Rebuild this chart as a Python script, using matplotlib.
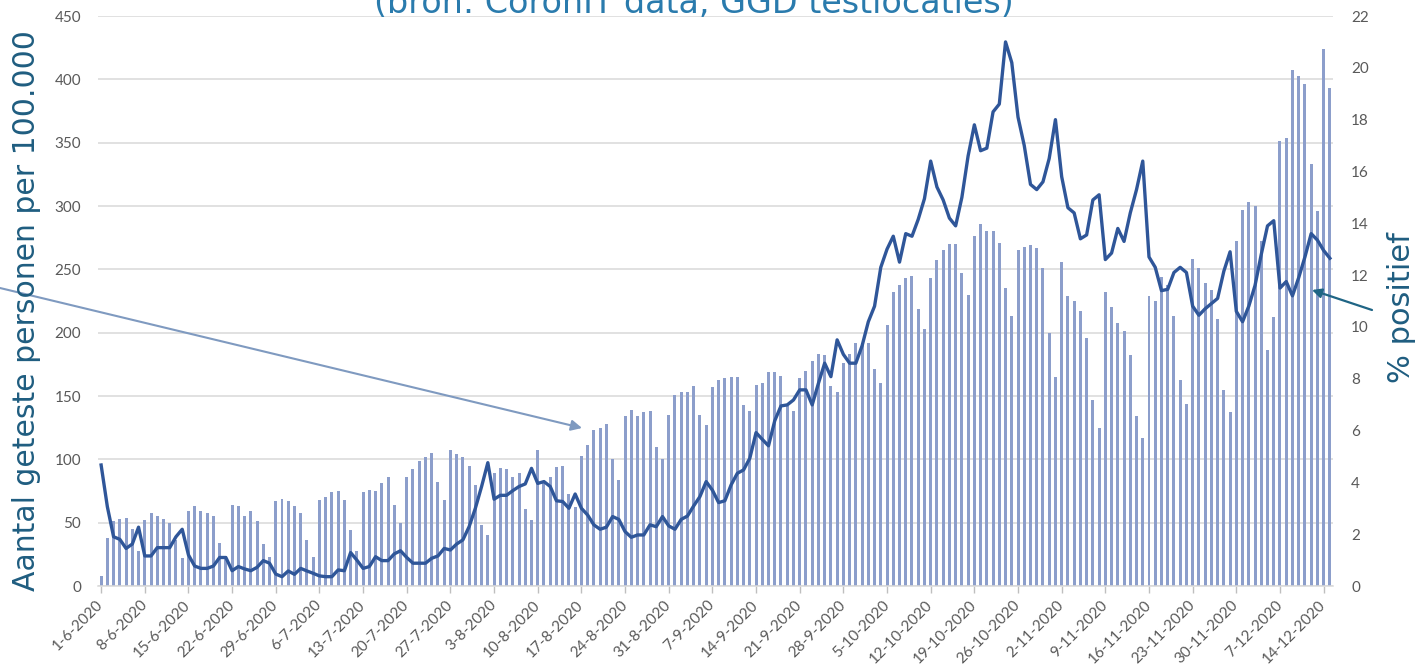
import numpy as np
import matplotlib
matplotlib.use('Agg')
import matplotlib.pyplot as plt

# daily values, 1-6-2020 .. 15-12-2020 (one row per week, Mon..Sun)
tested_per_100k = [
    8, 38, 51, 53, 54, 45, 28,
    52, 58, 55, 53, 50, 36, 22,
    59, 63, 59, 58, 55, 34, 24,
    64, 63, 55, 59, 51, 33, 23,
    67, 69, 67, 63, 58, 36, 23,
    68, 70, 74, 75, 68, 44, 28,
    74, 76, 75, 81, 86, 64, 50,
    86, 92, 99, 102, 105, 82, 68,
    107, 104, 102, 95, 80, 48, 40,
    89, 93, 92, 86, 89, 61, 52,
    107, 83, 86, 94, 95, 73, 62,
    103, 111, 123, 125, 128, 100, 84,
    134, 139, 134, 137, 138, 110, 100,
    135, 151, 153, 153, 158, 135, 127,
    157, 163, 164, 165, 165, 143, 138,
    159, 160, 169, 169, 166, 142, 138,
    164, 170, 178, 183, 182, 158, 153,
    176, 183, 192, 192, 192, 171, 160,
    206, 232, 238, 243, 245, 219, 203,
    243, 257, 265, 270, 270, 247, 230,
    276, 286, 280, 280, 271, 235, 213,
    265, 268, 269, 267, 251, 200, 165,
    256, 229, 225, 217, 196, 147, 125,
    232, 220, 208, 201, 182, 134, 117,
    229, 225, 244, 238, 213, 163, 144,
    258, 251, 239, 234, 211, 155, 137,
    272, 297, 303, 300, 272, 186, 212,
    351, 354, 407, 403, 396, 333, 296,
    424, 393,
]

pct_positive = [
    4.67, 3.06, 1.9, 1.8, 1.45, 1.62, 2.27,
    1.16, 1.16, 1.48, 1.48, 1.48, 1.9, 2.19,
    1.2, 0.77, 0.68, 0.68, 0.77, 1.1, 1.1,
    0.59, 0.75, 0.66, 0.59, 0.72, 0.98, 0.88,
    0.46, 0.36, 0.58, 0.45, 0.68, 0.58, 0.49,
    0.39, 0.36, 0.36, 0.62, 0.59, 1.29, 1.0,
    0.68, 0.75, 1.13, 0.98, 0.98, 1.24, 1.36,
    1.1, 0.88, 0.88, 0.88, 1.07, 1.16, 1.45,
    1.39, 1.62, 1.78, 2.29, 3.0, 3.84, 4.76,
    3.35, 3.5, 3.5, 3.68, 3.84, 3.94, 4.54,
    3.96, 4.03, 3.84, 3.29, 3.26, 3.0, 3.55,
    3.0, 2.74, 2.36, 2.19, 2.27, 2.68, 2.57,
    2.1, 1.88, 1.97, 1.97, 2.36, 2.29, 2.68,
    2.32, 2.19, 2.57, 2.7, 3.09, 3.45, 4.03,
    3.7, 3.22, 3.29, 3.9, 4.35, 4.48, 4.93,
    5.92, 5.66, 5.41, 6.38, 6.95, 6.99, 7.18,
    7.57, 7.57, 6.99, 7.82, 8.6, 8.08, 9.5,
    8.94, 8.6, 8.6, 9.27, 10.2, 10.8, 12.3,
    13.0, 13.5, 12.5, 13.6, 13.5, 14.15, 14.95,
    16.4, 15.4, 14.9, 14.2, 13.9, 15.0, 16.6,
    17.8, 16.8, 16.9, 18.3, 18.6, 21.0, 20.2,
    18.1, 17.0, 15.5, 15.3, 15.6, 16.5, 18.0,
    15.8, 14.6, 14.4, 13.4, 13.55, 14.9, 15.1,
    12.6, 12.85, 13.8, 13.3, 14.4, 15.3, 16.4,
    12.7, 12.3, 11.4, 11.45, 12.1, 12.3, 12.1,
    10.8, 10.45, 10.7, 10.9, 11.1, 12.15, 12.9,
    10.6, 10.2, 10.8, 11.6, 12.8, 13.9, 14.1,
    11.5, 11.75, 11.2, 11.9, 12.7, 13.6, 13.35,
    12.95, 12.65,
]

# one label per week (every 7th day)
week_labels = ['1-6-2020', '8-6-2020', '15-6-2020', '22-6-2020', '29-6-2020',
               '6-7-2020', '13-7-2020', '20-7-2020', '27-7-2020', '3-8-2020',
               '10-8-2020', '17-8-2020', '24-8-2020', '31-8-2020', '7-9-2020',
               '14-9-2020', '21-9-2020', '28-9-2020', '5-10-2020', '12-10-2020',
               '19-10-2020', '26-10-2020', '2-11-2020', '9-11-2020', '16-11-2020',
               '23-11-2020', '30-11-2020', '7-12-2020', '14-12-2020']

left_ticks = list(range(0, 451, 50))
right_ticks = list(range(0, 23, 2))

W, H = 1418, 669
bar_col = '#8c9ecb'
line_col = '#2f5699'
label_col = '#1f5d80'
tick_col = '#595959'
grid_col = '#d9d9d9'

x = np.arange(len(tested_per_100k))

fig = plt.figure(figsize=(W / 100, H / 100), dpi=100)
ax = fig.add_axes([98 / W, 1 - 586 / H, (1333 - 98) / W, (586 - 16) / H])

ax.bar(x, tested_per_100k, width=0.48, color=bar_col, zorder=2)
ax.set_xlim(-0.5, len(x) - 0.5)
ax.set_ylim(0, 450)
ax.set_yticks(left_ticks)
ax.yaxis.grid(True, color=grid_col, lw=1.1, zorder=0)
ax.set_axisbelow(True)
for s in ['top', 'left', 'right']:
    ax.spines[s].set_visible(False)
ax.spines['bottom'].set_color(grid_col)
ax.spines['bottom'].set_linewidth(1.1)

ax.set_xticks(x[::7])
ax.set_xticklabels(week_labels, rotation=45, ha='right', va='center',
                   rotation_mode='anchor', fontsize=11, color=tick_col, family='Lato')
ax.tick_params(axis='x', length=5, width=1, color='#bfbfbf', pad=7)
ax.tick_params(axis='y', length=0, pad=12, labelsize=11, labelcolor=tick_col)
for t in ax.get_yticklabels():
    t.set_family('Lato')

ax2 = ax.twinx()
ax2.plot(x, pct_positive, color=line_col, lw=2.4, solid_joinstyle='round', zorder=3)
ax2.set_ylim(0, 22)
ax2.set_yticks(right_ticks)
ax2.tick_params(axis='y', length=0, pad=13, labelsize=11, labelcolor=tick_col)
for t in ax2.get_yticklabels():
    t.set_family('Lato')
for s in ax2.spines.values():
    s.set_visible(False)

# labels and title
fig.text(27 / W, 1 - 311 / H, 'Aantal geteste personen per 100.000', rotation=90,
         ha='center', va='center', fontsize=21.5, color=label_col)
fig.text(1401 / W, 1 - 308 / H, '% positief', rotation=90,
         ha='center', va='center', fontsize=22, color=label_col)
fig.text(694 / W, 1 - 13 / H, '(bron: CoronIT data, GGD testlocaties)',
         ha='center', va='baseline', fontsize=24, color='#2a7bad')

# arrows
ax2.annotate('', xy=(582 / W, 1 - 428 / H), xytext=(0, 1 - 288 / H),
             xycoords='figure fraction', textcoords='figure fraction',
             arrowprops=dict(arrowstyle='-|>', color='#7f9ac0', lw=1.5,
                             mutation_scale=16, shrinkA=0, shrinkB=0),
             annotation_clip=False)
ax2.annotate('', xy=(1312 / W, 1 - 290 / H), xytext=(1372 / W, 1 - 310 / H),
             xycoords='figure fraction', textcoords='figure fraction',
             arrowprops=dict(arrowstyle='-|>', color='#1f6585', lw=1.6,
                             mutation_scale=14, shrinkA=0, shrinkB=0),
             annotation_clip=False)

fig.savefig('out.png', dpi=100)
